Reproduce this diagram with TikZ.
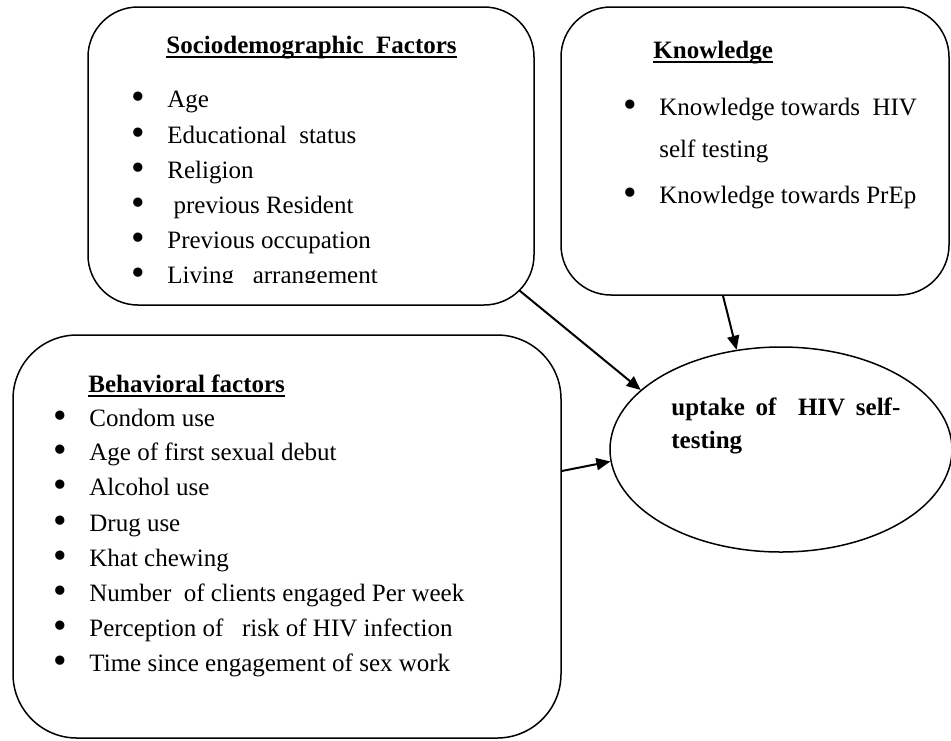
\documentclass[tikz,border=0pt]{standalone}
\usepackage{fontspec}
\setmainfont{Liberation Serif}
\usepackage{graphicx}
\usepackage{tikz}
\usetikzlibrary{shapes, arrows.meta, fit, calc}
\newcommand{\bul}[1]{\makebox[18pt][l]{\raisebox{-1.3pt}{\scalebox{1.55}{\textbullet}}}#1}
\tikzset{
  factorbox/.style={draw, line width=0.75pt, inner sep=0pt, rounded corners=25pt},
  itemtext/.style={anchor=base west, inner sep=0pt, font=\fontsize{12.5}{15}\selectfont},
  headtext/.style={itemtext, font=\fontsize{12.5}{15}\selectfont\bfseries},
  link/.style={line width=1pt, -{Triangle[length=7pt,width=6pt]}}
}

\begin{document}
\begin{tikzpicture}[x=0.5pt, y=-0.5pt]

\useasboundingbox (0,0) rectangle (951,740);

\node[factorbox, fit={(88,7) (534,305)}] (socio) {};
\node[factorbox, fit={(561,7) (949,295)}] (know) {};
\node[factorbox, rounded corners=32pt, fit={(13,335) (561,738)}] (behav) {};
\node[draw, ellipse, line width=0.75pt, inner sep=0pt, minimum width=171pt, minimum height=102.5pt] (goal) at (781,449.5) {};

\node[headtext] (sociot) at (166,53) {Sociodemographic\ \ Factors};
\draw[line width=1pt] ([yshift=-2.2pt]sociot.base west) -- ([yshift=-2.2pt]sociot.base east);

\node[itemtext] (s1) at (131,107) {\bul{Age}};
\node[itemtext] (s2) at (131,143) {\bul{Educational\ \ status}};
\node[itemtext] (s3) at (131,178) {\bul{Religion}};
\node[itemtext] (s4) at (131,213) {\bul{\ previous Resident}};
\node[itemtext] (s5) at (131,248) {\bul{Previous occupation}};

\begin{scope}
\clip (0,0) rectangle (951,282);
\node[itemtext] (s6) at (131,283) {\bul{Living\ \ \ arrangement}};
\end{scope}

\node[headtext] (knowt) at (653,58) {Knowledge};
\draw[line width=1pt] ([yshift=-2.2pt]knowt.base west) -- ([yshift=-2.2pt]knowt.base east);

\node[itemtext] (k1) at (623,115) {\bul{Knowledge towards\ \ HIV}};
\node[itemtext] (k2) at (659,157) {self testing};
\node[itemtext] (k3) at (623,203) {\bul{Knowledge towards PrEp}};

\node[headtext] (behavt) at (88,392) {Behavioral factors};
\draw[line width=1pt] ([yshift=-2.2pt]behavt.base west) -- ([yshift=-2.2pt]behavt.base east);

\node[itemtext] (b1) at (53,426) {\bul{Condom use}};
\node[itemtext] (b2) at (53,460) {\bul{Age of first sexual debut}};
\node[itemtext] (b3) at (53,495) {\bul{Alcohol use}};
\node[itemtext] (b4) at (53,531) {\bul{Drug use}};
\node[itemtext] (b5) at (53,566) {\bul{Khat chewing}};
\node[itemtext] (b6) at (53,601) {\bul{Number\ \ of clients engaged Per week}};
\node[itemtext] (b7) at (53,636) {\bul{Perception of\ \ \ risk of HIV infection}};
\node[itemtext] (b8) at (53,671) {\bul{Time since engagement of sex work}};

\node[headtext] (g1) at (671,415) {\makebox[114.5pt][s]{uptake\hfill of\hfill\hfill HIV\hfill self-}};
\node[headtext] (g2) at (671,448) {testing};

\draw[link] ($(socio.south east)+(-15,-15)$) -- (goal.157);
\draw[link] ($(know.south)+(-32,0)$) -- (goal.114);
\draw[link] ($(behav.east)+(0,-65.5)$) -- (goal.184);

\end{tikzpicture}
\end{document}
